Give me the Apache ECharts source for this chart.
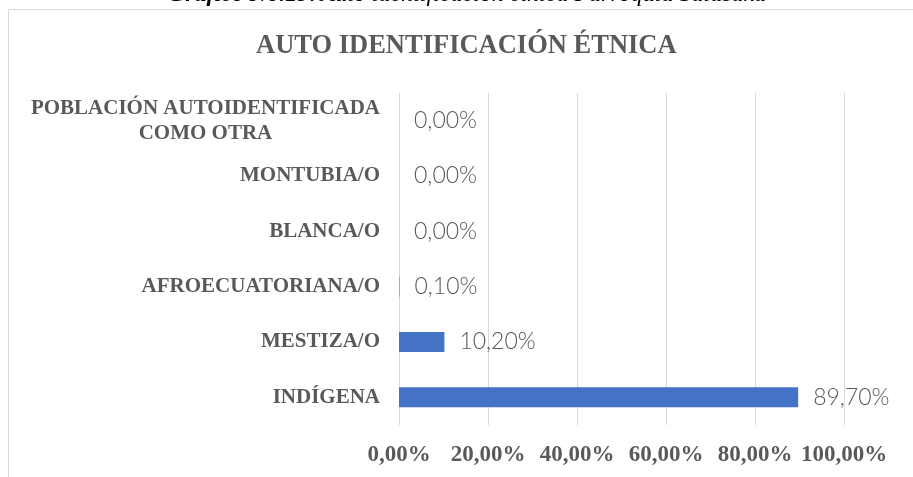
<!DOCTYPE html>
<html>
<head>
<meta charset="utf-8">
<script src="https://cdn.jsdelivr.net/npm/echarts@6/dist/echarts.min.js"></script>
<style>
  html, body { margin: 0; padding: 0; background: #fff; }
  #main { width: 913px; height: 477px; }
</style>
</head>
<body>
<div id="main"></div>
<script>
var categories = ['INDÍGENA', 'MESTIZA/O', 'AFROECUATORIANA/O', 'BLANCA/O', 'MONTUBIA/O', 'POBLACIÓN AUTOIDENTIFICADA\nCOMO OTRA'];
var percentages = [89.7, 10.2, 0.1, 0, 0, 0];
var axisMin = 0, axisMax = 100, axisStep = 20;

function pct(v) {
    return v.toFixed(2).replace('.', ',') + '%';
}

var grey = '#595959';
var serif = '"Liberation Serif", "Times New Roman", serif';

var myChart = echarts.init(document.getElementById('main'));
var option = {
    backgroundColor: '#fff',
    animation: false,
    title: {
        text: 'AUTO IDENTIFICACIÓN ÉTNICA',
        left: 256,
        top: 33,
        padding: 0,
        textStyle: { fontFamily: serif, fontSize: 26.5, fontWeight: 'bold', color: grey, lineHeight: 26 }
    },
    graphic: [
        {
            type: 'rect',
            shape: { x: 8.5, y: 9.5, width: 1000, height: 1000 },
            style: { fill: 'none', stroke: '#d9d9d9', lineWidth: 1 },
            silent: true
        },
        {
            type: 'text',
            x: 467,
            y: -5,
            style: {
                text: '{b|Gráfico No.19:} {i|Auto identificación étnica Parroquia Salasaka}',
                align: 'center',
                verticalAlign: 'middle',
                rich: {
                    b: { fontFamily: serif, fontSize: 24, fontStyle: 'italic', fontWeight: 'bold', fill: '#000' },
                    i: { fontFamily: serif, fontSize: 24, fontStyle: 'italic', fill: '#000' }
                }
            },
            silent: true
        }
    ],
    grid: { left: 399, right: 69, top: 93, bottom: 52, containLabel: false },
    xAxis: {
        type: 'value',
        min: axisMin,
        max: axisMax,
        interval: axisStep,
        axisLine: { show: false },
        axisTick: { show: false },
        splitLine: { show: true, lineStyle: { color: '#d9d9d9', width: 1 } },
        axisLabel: {
            margin: 19,
            fontFamily: serif,
            fontSize: 23,
            fontWeight: 'bold',
            color: grey,
            formatter: function (v) { return pct(v); }
        }
    },
    yAxis: {
        type: 'category',
        data: categories,
        axisLine: { show: false },
        axisTick: { show: false },
        splitLine: { show: false },
        axisLabel: {
            margin: 19,
            formatter: function (v) {
                return v.split('\n').map(function (l) { return '{c|' + l + '}'; }).join('\n');
            },
            rich: {
                c: { align: 'center', fontFamily: serif, fontSize: 21, fontWeight: 'bold', color: grey, lineHeight: 25 }
            }
        }
    },
    series: [
        {
            type: 'bar',
            data: percentages,
            barWidth: 20,
            itemStyle: { color: '#4472C4' },
            label: {
                show: true,
                position: 'right',
                distance: 15,
                fontFamily: 'Lato, "Open Sans", sans-serif',
                fontWeight: 300,
                fontSize: 23,
                color: grey,
                formatter: function (p) { return pct(p.value); }
            }
        }
    ]
};
myChart.setOption(option);
</script>
</body>
</html>
